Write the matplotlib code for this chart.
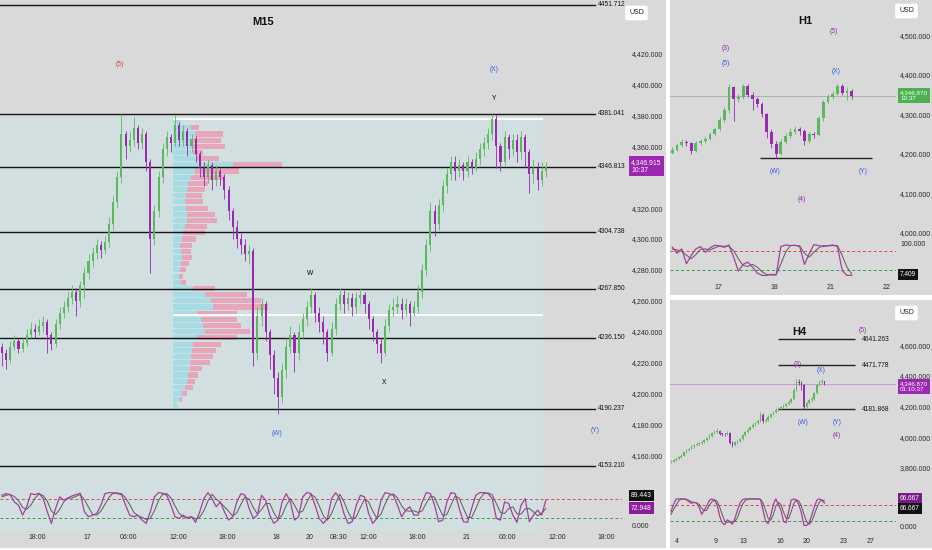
import numpy as np
import matplotlib
matplotlib.use("Agg")
import matplotlib.pyplot as plt
from matplotlib.patches import Rectangle
from matplotlib.transforms import blended_transform_factory

W, H = 932, 550
FONT = ['Liberation Sans', 'DejaVu Sans']
plt.rcParams['font.family'] = FONT

BG = '#d9d9d9'
TINT = '#d1dfe0'
UP = '#5cb85c'
DOWN = '#9c27b0'
K_COL = '#a53f9c'
D_COL = '#5a5a5a'
BLUE = '#3456ee'
PURPLE = '#8e2aa8'
RED = '#e53935'
FS = 5.0

# ---------------- M15 data (30-min candles) ----------------
m15_close = [4226, 4222, 4230, 4234, 4229, 4233, 4238, 4242, 4240, 4244,
             4246, 4238, 4232, 4245, 4252, 4256, 4262, 4266, 4260, 4270,
             4278, 4286, 4291, 4296, 4293, 4298, 4310, 4324, 4340, 4368,
             4360, 4364, 4372, 4362, 4368, 4350, 4300, 4318, 4340, 4358,
             4366, 4362, 4374, 4364, 4370, 4360, 4365, 4355, 4346, 4340,
             4348, 4338, 4344, 4340, 4332, 4318, 4308, 4300, 4296, 4290,
             4292, 4226, 4250, 4258, 4240, 4225, 4210, 4198, 4215, 4230,
             4238, 4226, 4240, 4248, 4256, 4264, 4252, 4246, 4240, 4226,
             4242, 4258, 4264, 4258, 4262, 4256, 4262, 4264, 4258, 4248,
             4240, 4232, 4226, 4244, 4254, 4256, 4258, 4254, 4258, 4252,
             4256, 4266, 4280, 4296, 4318, 4310, 4322, 4334, 4342, 4350,
             4344, 4348, 4344, 4350, 4346, 4352, 4358, 4362, 4368, 4378,
             4360, 4350, 4366, 4358, 4364, 4356, 4366, 4356, 4342, 4346,
             4338, 4344, 4347]
m15_open = [4230] + m15_close[:-1]
m15_high = [4233, 4229, 4234, 4238, 4236, 4236, 4242, 4246, 4245, 4248,
            4250, 4248, 4240, 4248, 4256, 4260, 4266, 4270, 4268, 4273,
            4282, 4290, 4295, 4300, 4299, 4302, 4314, 4328, 4344, 4381,
            4370, 4370, 4379, 4374, 4372, 4370, 4352, 4322, 4344, 4362,
            4370, 4368, 4380, 4376, 4374, 4372, 4368, 4367, 4357, 4350,
            4352, 4350, 4348, 4346, 4342, 4334, 4320, 4312, 4304, 4300,
            4296, 4294, 4256, 4262, 4260, 4242, 4228, 4214, 4220, 4236,
            4244, 4240, 4245, 4252, 4260, 4268, 4266, 4256, 4250, 4242,
            4246, 4262, 4268, 4267, 4266, 4265, 4266, 4268, 4266, 4260,
            4250, 4242, 4236, 4248, 4258, 4262, 4264, 4262, 4262, 4260,
            4260, 4270, 4284, 4300, 4324, 4322, 4326, 4338, 4346, 4354,
            4354, 4352, 4350, 4354, 4352, 4356, 4362, 4366, 4372, 4381,
            4380, 4362, 4370, 4368, 4368, 4368, 4370, 4368, 4358, 4352,
            4350, 4350, 4350]
m15_low = [4218, 4216, 4220, 4228, 4226, 4227, 4231, 4236, 4236, 4238,
           4240, 4226, 4228, 4230, 4242, 4249, 4253, 4258, 4250, 4256,
           4262, 4274, 4282, 4287, 4288, 4290, 4295, 4306, 4320, 4336,
           4352, 4356, 4360, 4358, 4358, 4344, 4278, 4296, 4314, 4336,
           4354, 4356, 4360, 4360, 4360, 4354, 4356, 4350, 4340, 4334,
           4336, 4332, 4334, 4335, 4326, 4312, 4300, 4294, 4290, 4286,
           4284, 4218, 4222, 4244, 4234, 4216, 4200, 4187, 4194, 4210,
           4226, 4214, 4222, 4236, 4244, 4252, 4246, 4240, 4232, 4221,
           4224, 4238, 4254, 4252, 4254, 4250, 4252, 4258, 4252, 4242,
           4234, 4226, 4220, 4224, 4240, 4250, 4252, 4248, 4250, 4244,
           4250, 4252, 4262, 4276, 4292, 4302, 4306, 4318, 4330, 4338,
           4338, 4340, 4338, 4340, 4342, 4344, 4348, 4354, 4358, 4364,
           4346, 4344, 4348, 4352, 4354, 4350, 4352, 4346, 4330, 4336,
           4332, 4334, 4340]
m15_k = [90, 95, 92, 70, 60, 30, 55, 95, 92, 96,
         80, 40, 5, 50, 85, 75, 82, 88, 92, 96,
         40, 25, 30, 35, 60, 95, 98, 97, 95, 92,
         60, 30, 25, 30, 15, 5, 40, 85, 98, 96,
         90, 60, 25, 20, 30, 20, 25, 8, 40, 80,
         98, 80, 55, 70, 40, 15, 25, 70, 95, 90,
         50, 20, 30, 90, 75, 30, 5, 15, 70, 95,
         70, 15, 25, 85, 98, 95, 60, 20, 5, 20,
         80, 98, 80, 35, 5, 10, 60, 90, 85, 35,
         5, 20, 75, 98, 95, 90, 60, 25, 45, 55,
         30, 30, 70, 98, 95, 60, 10, 15, 70, 98,
         95, 50, 10, 8, 50, 90, 98, 98, 95, 80,
         20, 15, 70, 65, 30, 8, 60, 80, 10, 30,
         45, 30, 75]
m15_d = [85, 90, 92, 86, 74, 53, 48, 60, 81, 94,
         89, 72, 42, 32, 47, 70, 81, 82, 87, 92,
         77, 54, 32, 30, 42, 63, 84, 97, 97, 95,
         82, 62, 38, 28, 23, 17, 20, 43, 74, 93,
         95, 82, 58, 35, 25, 23, 25, 18, 24, 43,
         73, 93, 78, 68, 55, 42, 27, 37, 63, 85,
         78, 53, 33, 47, 65, 65, 37, 17, 30, 60,
         80, 60, 37, 42, 69, 93, 84, 58, 28, 15,
         35, 66, 93, 71, 40, 17, 25, 53, 78, 70,
         42, 20, 33, 64, 89, 94, 82, 58, 43, 42,
         43, 38, 43, 66, 88, 84, 55, 28, 32, 61,
         88, 81, 51, 23, 23, 49, 79, 95, 97, 91,
         65, 38, 35, 50, 55, 34, 33, 49, 50, 40,
         28, 35, 50]
m15_levels = [4451.712, 4381.041, 4346.813, 4304.738, 4267.850, 4236.150, 4190.237, 4153.210]
m15_ticks = [4160, 4180, 4200, 4220, 4240, 4260, 4280, 4300, 4320, 4360, 4380, 4400, 4420]
m15_xpos = [8.5, 20.6, 30.6, 42.7, 54.6, 66.7, 74.7, 81.8, 88.8, 100.7, 112.8, 122.6, 134.7, 146.6]
m15_xlab = ['18:00', '17', '06:00', '12:00', '18:00', '18', '20', '08:30', '12:00', '18:00',
            '21', '06:00', '12:00', '18:00']
m15_waves = [('(5)', 28.6, 4413, RED), ('(X)', 119.4, 4410, BLUE), ('Y', 119.4, 4391, 'black'),
             ('W', 74.8, 4278, 'black'), ('X', 92.7, 4207, 'black'),
             ('(W)', 66.7, 4174, BLUE), ('(Y)', 143.9, 4176, BLUE)]

# volume profile rows (bottom price of each 4-point row)
vp_levels = [4190, 4194, 4198, 4202, 4206, 4210, 4214, 4218, 4222, 4226,
             4230, 4234, 4238, 4242, 4246, 4250, 4254, 4258, 4262, 4266,
             4270, 4274, 4278, 4282, 4286, 4290, 4294, 4298, 4302, 4306,
             4310, 4314, 4318, 4322, 4326, 4330, 4334, 4338, 4342, 4346,
             4350, 4354, 4358, 4362, 4366, 4370, 4374]
vp_up = [5, 7, 9, 12, 14, 15, 17, 17, 18, 19, 20, 24, 32, 30, 28, 24, 40, 38, 32, 20,
         8, 6, 7, 8, 9, 8, 7, 9, 10, 12, 14, 14, 13, 12, 13, 14, 15, 18, 22, 60,
         24, 20, 20, 20, 22, 18, 8]
vp_down = [0, 2, 5, 8, 8, 10, 12, 20, 22, 24, 28, 40, 45, 38, 36, 40, 55, 50, 42, 22,
           5, 4, 6, 8, 10, 10, 12, 14, 22, 22, 30, 28, 22, 18, 16, 18, 20, 34, 44, 49,
           22, 10, 32, 28, 28, 8, 0]

# ---------------- H1 data (2-hour candles) ----------------
h1_close = [4210, 4222, 4230, 4226, 4206, 4228, 4232, 4238, 4250, 4262,
            4285, 4310, 4368, 4340, 4345, 4372, 4350, 4340, 4325, 4300,
            4255, 4225, 4200, 4230, 4245, 4255, 4262, 4258, 4232, 4250,
            4248, 4290, 4330, 4345, 4352, 4372, 4355, 4360, 4347]
h1_open = [4202] + h1_close[:-1]
h1_high = [4216, 4228, 4236, 4234, 4230, 4232, 4238, 4244, 4256, 4268,
           4292, 4318, 4378, 4372, 4352, 4378, 4376, 4356, 4344, 4330,
           4304, 4262, 4232, 4236, 4252, 4264, 4270, 4268, 4262, 4256,
           4256, 4296, 4336, 4352, 4360, 4378, 4376, 4368, 4364]
h1_low = [4198, 4206, 4218, 4220, 4200, 4204, 4222, 4228, 4234, 4246,
          4258, 4280, 4304, 4282, 4330, 4340, 4344, 4312, 4318, 4292,
          4240, 4215, 4188, 4196, 4224, 4240, 4250, 4248, 4222, 4228,
          4240, 4244, 4284, 4326, 4340, 4348, 4348, 4336, 4338]
h1_k = [90, 72, 85, 40, 65, 85, 92, 75, 88, 96, 94, 90, 97, 60, 18, 38, 45, 30, 12, 5,
        5, 8, 6, 92, 97, 95, 96, 92, 38, 70, 98, 95, 92, 95, 97, 92, 20, 5, 5]
h1_d = [85, 82, 78, 66, 55, 68, 84, 85, 82, 88, 94, 93, 93, 80, 55, 35, 32, 38, 30, 16,
        8, 6, 7, 40, 75, 95, 96, 94, 72, 60, 75, 88, 95, 94, 95, 95, 65, 30, 10]
h1_xpos = [9.7, 21.7, 33.6, 45.5]
h1_xlab = ['17', '18', '21', '22']
h1_waves = [('(3)', 11.4, 4468, PURPLE), ('(5)', 11.4, 4428, BLUE), ('(5)', 34.2, 4509, PURPLE),
            ('(X)', 34.6, 4408, BLUE), ('(W)', 21.8, 4154, BLUE), ('(Y)', 40.4, 4154, BLUE),
            ('(4)', 27.5, 4083, PURPLE)]

# ---------------- H4 data (8-hour candles) ----------------
h4_close = [3840, 3852, 3860, 3870, 3880, 3900, 3915, 3925, 3940, 3946,
            3955, 3962, 3968, 3980, 3995, 4010, 4025, 4035, 4040, 4022,
            4020, 4018, 4030, 3965, 3950, 3968, 3975, 3988, 4015, 4035,
            4050, 4068, 4082, 4095, 4105, 4148, 4108, 4115, 4135, 4150,
            4165, 4180, 4188, 4195, 4205, 4218, 4232, 4250, 4310, 4360,
            4355, 4340, 4200, 4225, 4240, 4252, 4290, 4340, 4360, 4365,
            4347]
h4_open = [3835] + h4_close[:-1]
h4_high = [3848, 3858, 3866, 3876, 3888, 3906, 3922, 3932, 3948, 3954,
           3962, 3970, 3976, 3988, 4002, 4018, 4034, 4044, 4058, 4046,
           4030, 4028, 4040, 4034, 3972, 3975, 3984, 3996, 4022, 4042,
           4058, 4076, 4090, 4102, 4116, 4165, 4155, 4125, 4142, 4158,
           4172, 4188, 4196, 4204, 4214, 4226, 4240, 4258, 4320, 4380,
           4378, 4365, 4345, 4238, 4250, 4262, 4298, 4348, 4372, 4380,
           4370]
h4_low = [3828, 3836, 3846, 3855, 3864, 3876, 3894, 3908, 3920, 3932,
          3940, 3948, 3954, 3962, 3974, 3990, 4004, 4018, 4028, 4014,
          4010, 4008, 4012, 3955, 3935, 3942, 3958, 3968, 3982, 4008,
          4028, 4044, 4060, 4076, 4088, 4100, 4096, 4100, 4108, 4128,
          4144, 4158, 4172, 4180, 4188, 4198, 4210, 4226, 4244, 4302,
          4340, 4310, 4185, 4190, 4215, 4232, 4245, 4282, 4332, 4350,
          4338]
h4_k = [55, 80, 100, 100, 100, 100, 98, 90, 84, 88,
        86, 70, 45, 60, 75, 95, 100, 95, 80, 40,
        15, 8, 25, 20, 10, 30, 60, 85, 98, 100,
        100, 100, 100, 100, 100, 98, 60, 20, 12, 40,
        80, 100, 80, 60, 20, 15, 55, 95, 100, 95,
        80, 50, 6, 5, 15, 40, 70, 95, 100, 95, 85]
h4_d = [45, 62, 78, 93, 100, 100, 99, 95, 90, 87,
        86, 81, 67, 58, 60, 77, 90, 97, 92, 72,
        45, 21, 16, 18, 18, 20, 33, 58, 81, 94,
        99, 100, 100, 100, 100, 99, 86, 59, 31, 24,
        44, 74, 87, 80, 53, 32, 30, 55, 83, 97,
        92, 75, 45, 20, 9, 20, 42, 68, 88, 97, 93]
h4_levels = [4641.263, 4471.778, 4181.868]
h4_xpos = [2.35, 17.6, 28.5, 42.6, 53.2, 67.7, 78.2]
h4_xlab = ['4', '9', '13', '16', '20', '23', '27']
h4_waves = [('(5)', 75.1, 4700, PURPLE), ('(3)', 49.7, 4478, PURPLE), ('(X)', 58.7, 4439, BLUE),
            ('(W)', 51.6, 4099, BLUE), ('(Y)', 64.9, 4093, BLUE), ('(4)', 64.9, 4014, PURPLE)]


def px_box(x0, y0, x1, y1):
    return [x0 / W, 1 - y1 / H, (x1 - x0) / W, (y1 - y0) / H]


def clean(ax):
    ax.set_facecolor('none')
    for s in ax.spines.values():
        s.set_visible(False)
    ax.tick_params(length=0, labelsize=FS, colors='#2a2a2a')
    ax.yaxis.tick_right()


def draw_candles(ax, opens, highs, lows, closes, width, min_body):
    x = np.arange(len(closes))
    o = np.array(opens, float)
    c = np.array(closes, float)
    cols = [UP if cc >= oo else DOWN for oo, cc in zip(o, c)]
    ax.vlines(x, lows, highs, colors=cols, lw=0.6, zorder=3)
    ax.bar(x, np.maximum(np.abs(c - o), min_body), width, bottom=np.minimum(o, c),
           color=cols, lw=0, zorder=4)


def draw_osc(ax, k, d):
    x = np.arange(len(k))
    ax.plot(x, d, color=D_COL, lw=0.7, zorder=3)
    ax.plot(x, k, color=K_COL, lw=0.9, zorder=4)
    ax.axhline(80, color='#e0454f', ls=(0, (3, 2.5)), lw=0.7, zorder=2)
    ax.axhline(20, color='#3f9a4a', ls=(0, (3, 2.5)), lw=0.7, zorder=2)


def tag(ax, x_frac, y, text, fc, size=FS, pad=0.35):
    tr = blended_transform_factory(ax.transAxes, ax.transData)
    ax.text(x_frac, y, text, transform=tr, ha='left', va='center', fontsize=size,
            color='white', linespacing=1.25, clip_on=False, zorder=10,
            bbox=dict(boxstyle=f'square,pad={pad}', fc=fc, ec='none'))


def waves(ax, items):
    for txt, xb, yp, col in items:
        ax.text(xb, yp, txt, ha='center', va='center', fontsize=4.8, color=col, zorder=6)


def usd_box(x_px, y_px):
    fig.text(x_px / W, 1 - y_px / H, 'USD', fontsize=FS, color='#222', ha='left', va='center',
             bbox=dict(boxstyle='round,pad=0.55,rounding_size=0.3', fc='white', ec='none'))


fig = plt.figure(figsize=(W / 100, H / 100), dpi=100, facecolor='white')

# panel backgrounds
for x0, y0, x1, y1 in [(0, 0, 666, 548), (670, 0, 932, 295), (670, 300, 932, 548)]:
    b = px_box(x0, y0, x1, y1)
    fig.add_artist(Rectangle((b[0], b[1]), b[2], b[3], transform=fig.transFigure,
                             fc=BG, ec='none', zorder=-2))
b = px_box(0, 117, 543, 531)
fig.add_artist(Rectangle((b[0], b[1]), b[2], b[3], transform=fig.transFigure,
                         fc=TINT, ec='none', zorder=-1))

# ---------------- M15 ----------------
ax = fig.add_axes(px_box(0, 0, 622, 485))
clean(ax)
ax.set_xlim(-0.485, 150.5)
ax.set_ylim(4140.8, 4454.7)
ax.set_xticks([])
ax.set_yticks(m15_ticks, [f'{v:,.3f}' for v in m15_ticks])
ax.tick_params(axis='y', pad=7)

vp_left = 41.5
vp_scale = 1 / 4.12
vp_mid = [v + 2 for v in vp_levels]
ax.barh(vp_mid, [u * vp_scale for u in vp_up], height=3.3, left=vp_left,
        color='#a6dce3', lw=0, zorder=1.5)
ax.barh(vp_mid, [d * vp_scale for d in vp_down], height=3.3,
        left=[vp_left + u * vp_scale for u in vp_up], color='#e7a6ba', lw=0, zorder=1.5)
ax.hlines([4378, 4251], vp_left, 131.3, colors='white', lw=1.3, zorder=1.6)

tr_m = blended_transform_factory(ax.transAxes, ax.transData)
for lv in m15_levels:
    ax.axhline(lv, xmin=0, xmax=595 / 622, color='#151515', lw=1.0, zorder=2)
    ax.text(598 / 622, lv, f'{lv:.3f}', transform=tr_m, ha='left', va='center',
            fontsize=4.8, color='#151515', clip_on=False)

draw_candles(ax, m15_open, m15_high, m15_low, m15_close, 0.5, 0.6)
waves(ax, m15_waves)
ax.text(263 / 622, 1 - 22 / 485, 'M15', transform=ax.transAxes, ha='center', va='center',
        fontsize=8, fontweight='bold', color='#111')
tag(ax, 631 / 622, m15_close[-1], '4,346.915\n10:37', '#9c27b0', size=4.9)

axo = fig.add_axes(px_box(0, 485, 622, 530))
clean(axo)
axo.set_xlim(-0.485, 150.5)
axo.set_ylim(-15, 121)
draw_osc(axo, m15_k, m15_d)
axo.set_yticks([0], ['0.000'])
axo.tick_params(axis='y', pad=7)
axo.set_xticks(m15_xpos, m15_xlab)
axo.tick_params(axis='x', pad=3)
tag(axo, 631 / 622, 89.443, '89.443', '#111111', size=4.9)
tag(axo, 631 / 622, 51, '72.948', '#8e1c9e', size=4.9)

usd_box(629, 13)

# ---------------- H1 ----------------
RX = (900 - 670) / 226
ah = fig.add_axes(px_box(670, 0, 896, 238))
clean(ah)
ah.set_xlim(-0.49, 47.4)
ah.set_ylim(3986, 4590)
ah.set_xticks([])
ah.set_yticks([4000, 4100, 4200, 4300, 4400, 4500],
              [f'{v:,.3f}' for v in [4000, 4100, 4200, 4300, 4400, 4500]])
ah.tick_params(axis='y', pad=3)
ah.axhline(h1_close[-1], color='#a8a8a8', lw=0.6, zorder=1)
ah.hlines(4188, 18.6, 42.3, colors='#222', lw=1.0, zorder=2)
draw_candles(ah, h1_open, h1_high, h1_low, h1_close, 0.6, 2)
waves(ah, h1_waves)
ah.text(0.597, 1 - 21 / 238, 'H1', transform=ah.transAxes, ha='center', va='center',
        fontsize=8, fontweight='bold', color='#111')
tag(ah, RX, h1_close[-1], '4,346.870\n10:37', '#4caf50', size=4.5, pad=0.3)

aho = fig.add_axes(px_box(670, 238, 896, 280))
clean(aho)
aho.set_xlim(-0.49, 47.4)
aho.set_ylim(-9, 118)
draw_osc(aho, h1_k, h1_d)
aho.set_yticks([100], ['100.000'])
aho.tick_params(axis='y', pad=3)
aho.set_xticks(h1_xpos, h1_xlab)
aho.tick_params(axis='x', pad=3)
tag(aho, RX, 7.409, '7.409', '#111111', size=4.7, pad=0.3)

usd_box(899, 11)

# ---------------- H4 ----------------
a4 = fig.add_axes(px_box(670, 300, 896, 495))
clean(a4)
a4.set_xlim(-0.39, 88.0)
a4.set_ylim(3622, 4897)
a4.set_xticks([])
a4.set_yticks([3800, 4000, 4200, 4400, 4600],
              [f'{v:,.3f}' for v in [3800, 4000, 4200, 4400, 4600]])
a4.tick_params(axis='y', pad=3)
a4.axhline(h4_close[-1], color='#c58fd0', lw=0.6, zorder=1)
for lv in h4_levels:
    a4.hlines(lv, 41.8, 72.0, colors='#222', lw=1.0, zorder=2)
    a4.text(74.7, lv, f'{lv:.3f}', ha='left', va='center', fontsize=4.8, color='#151515')
draw_candles(a4, h4_open, h4_high, h4_low, h4_close, 0.6, 5)
waves(a4, h4_waves)
a4.text((799 - 670) / 226, 1 - 32 / 195, 'H4', transform=a4.transAxes, ha='center', va='center',
        fontsize=8, fontweight='bold', color='#111')
tag(a4, RX, 4330, '4,346.870\n01:10:37', '#9c27b0', size=4.5, pad=0.3)

a4o = fig.add_axes(px_box(670, 495, 896, 532))
clean(a4o)
a4o.set_xlim(-0.39, 88.0)
a4o.set_ylim(-18, 114)
draw_osc(a4o, h4_k, h4_d)
a4o.set_yticks([0], ['0.000'])
a4o.tick_params(axis='y', pad=3)
a4o.set_xticks(h4_xpos, h4_xlab)
a4o.tick_params(axis='x', pad=4)
tag(a4o, RX, 100, '66.667', '#7a1b8c', size=4.7, pad=0.3)
tag(a4o, RX, 66.667, '66.667', '#111111', size=4.7, pad=0.3)

usd_box(899, 313)

fig.savefig('out.png', dpi=100, facecolor='white')
